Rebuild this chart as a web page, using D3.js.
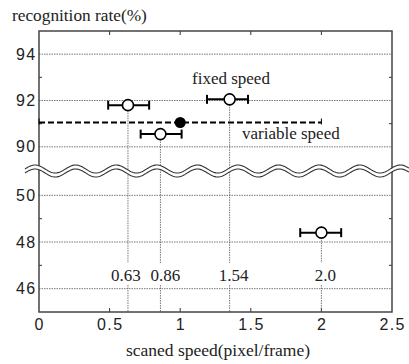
<!DOCTYPE html>
<html>
<head>
<meta charset="utf-8">
<script src="https://cdn.jsdelivr.net/npm/d3@7"></script>
<style>
  body { margin: 0; background: #fff; }
</style>
</head>
<body>
<div id="chart"></div>
<script>
// values
const xTicks = [0, 0.5, 1, 1.5, 2, 2.5];
const upperTicks = [90, 92, 94];
const lowerTicks = [46, 48, 50];
const upperMinor = [91, 93];
const lowerMinor = [47, 49];

// fixed speed points (open circles)
const fixedSpeed = [0.63, 0.86, 1.35, 2.0];
const fixedRate = [91.8, 90.55, 92.05, 48.4];
const fixedLo = [0.49, 0.72, 1.19, 1.85];
const fixedHi = [0.78, 1.01, 1.48, 2.14];
const fixedLabels = ["0.63", "0.86", "1.54", "2.0"];

// variable speed (filled point + dashed range)
const variableSpeed = [1.0];
const variableRate = [91.05];
const variableLo = [0];
const variableHi = [2.0];

const W = 409, H = 364;
const pLeft = 39, pRight = 392, pTop = 31, pBottom = 312;
const SERIF = "Liberation Serif";
const SANS = "Liberation Sans";
// small horizontal nudges so the speed labels don't collide
const labelNudge = [-2, 5, 4, 4];

const svg = d3.select("#chart").append("svg")
  .attr("width", W)
  .attr("height", H);

const x = d3.scaleLinear().domain([0, 2.5]).range([pLeft, pRight]);
const yUp = d3.scaleLinear().domain([89, 95]).range([170, pTop]);
const yLo = d3.scaleLinear().domain([45, 51]).range([pBottom, 172]);
const yOf = v => v > 70 ? yUp(v) : yLo(v);

const gridColor = "#555";

// horizontal dotted grid
svg.append("g").selectAll("line")
  .data(upperTicks.concat(lowerTicks))
  .enter().append("line")
  .attr("x1", pLeft).attr("x2", pRight)
  .attr("y1", d => yOf(d)).attr("y2", d => yOf(d))
  .attr("stroke", gridColor)
  .attr("stroke-width", 0.8)
  .attr("stroke-dasharray", "1.5,1");

// minor y ticks on both sides
svg.append("g").selectAll("g")
  .data(upperMinor.concat(lowerMinor))
  .enter().append("g")
  .each(function(d) {
    const g = d3.select(this);
    g.append("line").attr("x1", pLeft).attr("x2", pLeft + 3)
      .attr("y1", yOf(d)).attr("y2", yOf(d)).attr("stroke", "#333");
    g.append("line").attr("x1", pRight - 3).attr("x2", pRight)
      .attr("y1", yOf(d)).attr("y2", yOf(d)).attr("stroke", "#333");
  });

// x ticks top and bottom, pointing inward
svg.append("g").selectAll("g")
  .data(xTicks.slice(1, -1))
  .enter().append("g")
  .each(function(d) {
    const g = d3.select(this);
    g.append("line").attr("x1", x(d)).attr("x2", x(d))
      .attr("y1", pTop).attr("y2", pTop + 4).attr("stroke", "#333");
    g.append("line").attr("x1", x(d)).attr("x2", x(d))
      .attr("y1", pBottom).attr("y2", pBottom - 4).attr("stroke", "#333");
  });

// vertical dotted drop lines with a gap for the labels
const labelY = 281;
fixedSpeed.forEach((s, i) => {
  const cx = x(s), cy = yOf(fixedRate[i]);
  svg.append("line")
    .attr("x1", cx).attr("x2", cx)
    .attr("y1", cy).attr("y2", labelY - 18)
    .attr("stroke", gridColor).attr("stroke-width", 0.8)
    .attr("stroke-dasharray", "1.5,1");
  svg.append("line")
    .attr("x1", cx).attr("x2", cx)
    .attr("y1", labelY + 4).attr("y2", pBottom)
    .attr("stroke", gridColor).attr("stroke-width", 0.8)
    .attr("stroke-dasharray", "1.5,1");
  svg.append("text")
    .attr("font-family", SERIF)
    .attr("x", cx + labelNudge[i]).attr("y", labelY)
    .attr("text-anchor", "middle")
    .attr("font-size", 17)
    .attr("fill", "#222")
    .text(fixedLabels[i]);
});

// frame
svg.append("rect")
  .attr("x", pLeft).attr("y", pTop)
  .attr("width", pRight - pLeft).attr("height", pBottom - pTop)
  .attr("fill", "none")
  .attr("stroke", "#444")
  .attr("stroke-width", 1.5);

// variable speed dashed range
variableSpeed.forEach((s, i) => {
  const cy = yOf(variableRate[i]);
  svg.append("line")
    .attr("x1", x(variableLo[i])).attr("x2", x(variableHi[i]))
    .attr("y1", cy).attr("y2", cy)
    .attr("stroke", "#000").attr("stroke-width", 2)
    .attr("stroke-dasharray", "6,3");
  [variableLo[i], variableHi[i]].forEach(v => {
    svg.append("line")
      .attr("x1", x(v)).attr("x2", x(v))
      .attr("y1", cy - 4).attr("y2", cy + 2)
      .attr("stroke", "#000").attr("stroke-width", 1);
  });
  svg.append("circle")
    .attr("cx", x(s)).attr("cy", cy).attr("r", 5.5)
    .attr("fill", "#000");
});

// fixed speed error bars + open circles
fixedSpeed.forEach((s, i) => {
  const cy = yOf(fixedRate[i]);
  svg.append("line")
    .attr("x1", x(fixedLo[i])).attr("x2", x(fixedHi[i]))
    .attr("y1", cy).attr("y2", cy)
    .attr("stroke", "#000").attr("stroke-width", 2);
  [fixedLo[i], fixedHi[i]].forEach(v => {
    svg.append("line")
      .attr("x1", x(v)).attr("x2", x(v))
      .attr("y1", cy - 4.5).attr("y2", cy + 4.5)
      .attr("stroke", "#000").attr("stroke-width", 2);
  });
  svg.append("circle")
    .attr("cx", x(s)).attr("cy", cy).attr("r", 5.5)
    .attr("fill", "#fff")
    .attr("stroke", "#000").attr("stroke-width", 1.6);
});

// axis break: two parallel waves with white fill between
const waveMid = (yUp(89) + yLo(51)) / 2;
const amp = 4, period = 40.6, x0 = 35, gap = 4;
const xs = d3.range(25, W + 1, 1);
const upperWave = xs.map(px => [px, waveMid - gap / 2 - amp * Math.cos(2 * Math.PI * (px - x0) / period)]);
const lowerWave = xs.map(px => [px, waveMid + gap / 2 - amp * Math.cos(2 * Math.PI * (px - x0) / period)]);
const line = d3.line();
svg.append("path")
  .attr("d", line(upperWave.concat(lowerWave.slice().reverse())) + "Z")
  .attr("fill", "#fff");
svg.append("path").attr("d", line(upperWave))
  .attr("fill", "none").attr("stroke", "#333").attr("stroke-width", 1.1);
svg.append("path").attr("d", line(lowerWave))
  .attr("fill", "none").attr("stroke", "#333").attr("stroke-width", 1.1);

// tick labels
svg.append("g").selectAll("text")
  .data(xTicks)
  .enter().append("text")
  .attr("font-family", SANS)
  .attr("x", d => x(d) + 0.7).attr("y", 330)
  .attr("text-anchor", "middle")
  .attr("font-size", 16)
  .attr("letter-spacing", 1.4)
  .attr("fill", "#222")
  .text(d => d);

svg.append("g").selectAll("text")
  .data(upperTicks.concat(lowerTicks))
  .enter().append("text")
  .attr("font-family", SANS)
  .attr("x", 36.5).attr("y", d => yOf(d) + 5.5)
  .attr("text-anchor", "end")
  .attr("font-size", 16)
  .attr("letter-spacing", 1.4)
  .attr("fill", "#222")
  .text(d => d);

// titles and annotations
svg.append("text").attr("font-family", SERIF)
  .attr("x", 12).attr("y", 21)
  .attr("font-size", 17.3).attr("fill", "#222")
  .text("recognition rate(%)");

svg.append("text").attr("font-family", SERIF)
  .attr("x", 218).attr("y", 356)
  .attr("text-anchor", "middle")
  .attr("font-size", 17.5).attr("fill", "#222")
  .text("scaned speed(pixel/frame)");

svg.append("text").attr("font-family", SERIF)
  .attr("x", 192).attr("y", 84)
  .attr("font-size", 17).attr("fill", "#222")
  .text("fixed speed");

svg.append("text").attr("font-family", SERIF)
  .attr("x", 242).attr("y", 139)
  .attr("font-size", 17).attr("fill", "#222")
  .text("variable speed");
</script>
</body>
</html>
